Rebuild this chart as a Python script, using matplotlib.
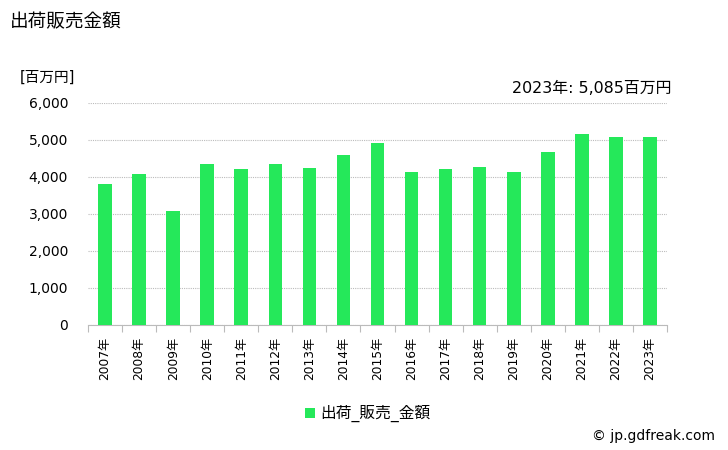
import matplotlib
matplotlib.use("Agg")
import matplotlib.pyplot as plt
import numpy as np
from matplotlib.patches import Rectangle

plt.rcParams['font.family'] = ['DejaVu Sans', 'Noto Sans CJK JP']

years = ["2007年", "2008年", "2009年", "2010年", "2011年", "2012年", "2013年", "2014年",
         "2015年", "2016年", "2017年", "2018年", "2019年", "2020年", "2021年", "2022年", "2023年"]
values = [3800, 4070, 3070, 4340, 4200, 4360, 4230, 4580,
          4930, 4120, 4200, 4260, 4120, 4660, 5150, 5070, 5085]
yticks = [0, 1000, 2000, 3000, 4000, 5000, 6000]
title = "出荷販売金額"
unit = "[百万円]"
series_name = "出荷_販売_金額"
annotation = "2023年: 5,085百万円"
credit = "© jp.gdfreak.com"
color = "#25E85A"

fig = plt.figure(figsize=(7.28, 4.5), dpi=100)
ax = fig.add_axes([88/728, 1-324.5/450, (667-88)/728, (324.5-103)/450])

x = np.arange(len(years))
ax.bar(x, values, width=0.4, color=color, zorder=3)
ax.set_xlim(-0.5, len(years) - 0.5)
ax.set_ylim(0, 6000)
ax.set_yticks(yticks)
ax.set_yticklabels([f"{v:,}" for v in yticks], fontsize=10)
ax.tick_params(axis='y', length=0, pad=14.4)
ax.grid(axis='y', color='#bbbbbb', linestyle=(0, (1, 1)), linewidth=0.8, zorder=0)
ax.set_xticks(x)
ax.set_xticklabels(years, rotation=90, fontsize=8.8)
ax.tick_params(axis='x', which='major', length=0, pad=9)
ax.set_xticks(np.arange(-0.5, len(years)), minor=True)
ax.tick_params(axis='x', which='minor', length=5, color='#bbbbbb', width=0.8)
for s in ['left', 'right', 'top']:
    ax.spines[s].set_visible(False)
ax.spines['bottom'].set_color('#bbbbbb')
ax.spines['bottom'].set_linewidth(0.8)

fig.text(10/728, 1-22/450, title, fontsize=13.4, ha='left', va='center')
fig.text(20/728, 1-77/450, unit, fontsize=10.5, ha='left', va='center')
fig.text(671/728, 1-88/450, annotation, fontsize=11.4, ha='right', va='center')
fig.patches.append(Rectangle((305/728, 1-418/450), 10/728, 10/450, transform=fig.transFigure,
                             facecolor=color, edgecolor='none'))
fig.text(320/728, 1-413/450, series_name, fontsize=11.3, ha='left', va='center')
fig.text(715/728, 1-436/450, credit, fontsize=10, ha='right', va='center')

fig.savefig("out.png", dpi=100)
